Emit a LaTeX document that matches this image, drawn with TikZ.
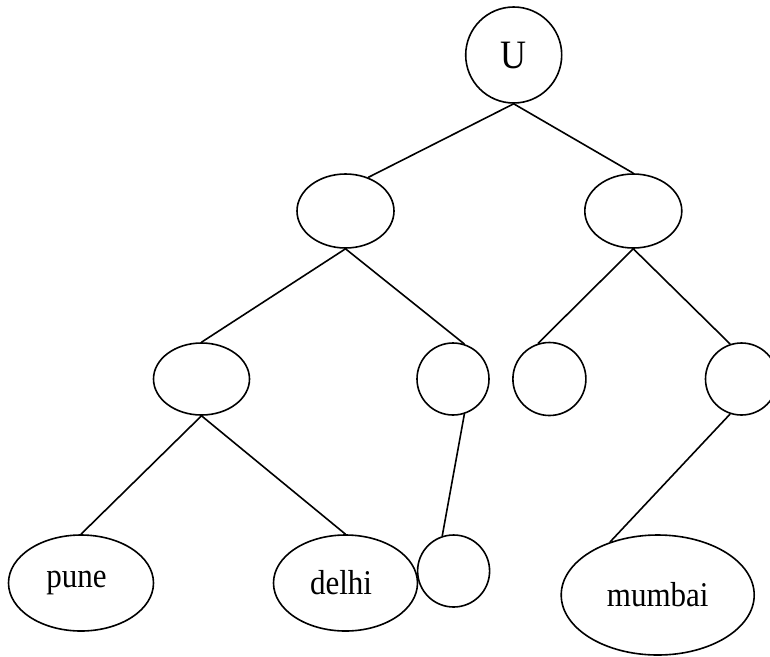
\documentclass[tikz,border=0pt]{standalone}
\usepackage{fontspec}
\usepackage{graphicx}
\setmainfont{Liberation Serif}
\usetikzlibrary{shapes.geometric}
\newcommand{\tallword}[1]{\scalebox{1}[1.12]{#1}}
\tikzset{
    tree-circle/.style = {draw, circle, line width=1.6pt, inner sep=0pt, font=\fontsize{36}{40}\selectfont},
    tree-oval/.style = {draw, ellipse, line width=1.6pt, inner sep=0pt, font=\fontsize{31}{36}\selectfont},
    tree-edge/.style = {line width=1.6pt},
}

\begin{document}
\begin{tikzpicture}[x=1pt, y=-1pt]
\useasboundingbox (0,0) rectangle (770,656);
% root
\node [tree-circle, minimum size=96pt] (U) at (513.7,55) {\tallword{U}};
% first level
\node [tree-oval, minimum width=97pt, minimum height=74pt] (l1) at (345.5,211) {};
\node [tree-oval, minimum width=97pt, minimum height=74pt] (r1) at (633.3,211) {};
% second level
\node [tree-oval, minimum width=96pt, minimum height=72pt] (l2) at (201.5,379) {};
\node [tree-circle, minimum size=72pt] (a) at (453,379) {};
\node [tree-circle, minimum size=73pt] (b) at (549.4,379) {};
\node [tree-circle, minimum size=72pt] (c) at (741.5,379) {};
% leaves
\node [tree-oval, minimum width=145pt, minimum height=96pt] (pune) at (81,583) {\tallword{pune}\hspace*{9pt}};
\node [tree-oval, minimum width=144pt, minimum height=96pt] (delhi) at (345.5,583) {\tallword{delhi}\hspace*{9pt}};
\node [tree-circle, minimum size=72pt] (d) at (453.6,571) {};
\node [tree-oval, minimum width=193pt, minimum height=120pt] (mumbai) at (657.7,595) {\tallword{mumbai}};

\draw [tree-edge] (U.south) -- (l1.56);
\draw [tree-edge] (U.south) -- (r1.north);
\draw [tree-edge] (l1.south) -- (l2.north);
\draw [tree-edge] (l1.south) -- (a.72);
\draw [tree-edge] (r1.south) -- (b.108);
\draw [tree-edge] (r1.south) -- (c.108);
\draw [tree-edge] (l2.south) -- (pune.north);
\draw [tree-edge] (l2.south) -- (delhi.north);
\draw [tree-edge] (a.-72) -- (d.108);
\draw [tree-edge] (c.252) -- (mumbai.132);
\end{tikzpicture}
\end{document}
